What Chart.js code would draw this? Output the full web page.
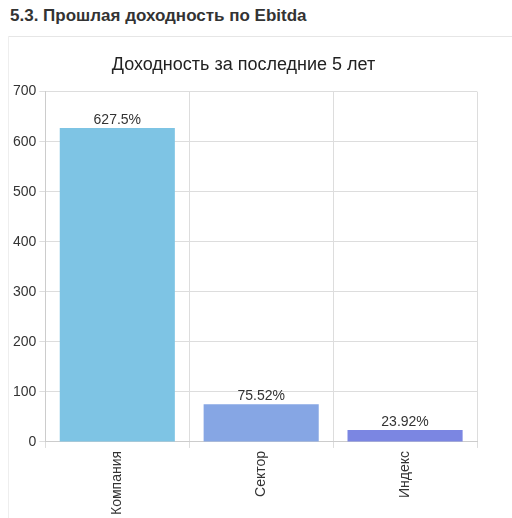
<!DOCTYPE html>
<html><head><meta charset="utf-8">
<script src="https://cdn.jsdelivr.net/npm/chart.js@4"></script>
<style>
body{margin:0;background:#fff;font-family:Arial,"Liberation Sans",sans-serif;}
#hdr{position:absolute;left:10px;top:6px;font-size:17px;font-weight:bold;color:#333;}
#line{position:absolute;left:8px;top:36px;width:504px;height:1px;background:#e6e6e6;}
#vline{position:absolute;left:8px;top:36px;width:1px;height:482px;background:#eee;}
#wrap{position:absolute;left:10px;top:44px;width:470px;height:474px;}
</style></head><body>
<div id="hdr">5.3. Прошлая доходность по Ebitda</div>
<div id="line"></div><div id="vline"></div>
<div id="wrap"><canvas id="c"></canvas></div>
<script>
const categories=["Компания","Сектор","Индекс"];
const values=[627.5,75.52,23.92];
const valueLabels=["627.5%","75.52%","23.92%"];
const colors=["#7ec4e4","#86a6e4","#7b86e2"];
const labelPlugin={id:"vl",afterDatasetsDraw(ch){const ctx=ch.ctx;const m=ch.getDatasetMeta(0);ctx.save();ctx.font="14px Arial, 'Liberation Sans'";ctx.fillStyle="#333";ctx.textAlign="center";ctx.textBaseline="bottom";m.data.forEach((b,i)=>ctx.fillText(valueLabels[i],b.x,b.y-1));ctx.restore();}};
new Chart(document.getElementById("c"),{type:"bar",
data:{labels:categories,datasets:[{data:values,backgroundColor:colors,categoryPercentage:1,barPercentage:0.8}]},
options:{responsive:true,maintainAspectRatio:false,animation:false,
layout:{padding:{right:3,top:0}},
plugins:{legend:{display:false},tooltip:{enabled:false},
title:{display:true,text:"Доходность за последние 5 лет",color:"#222",font:{size:18,family:"Arial, 'Liberation Sans'",weight:"normal"},padding:{top:10,bottom:16}}},
scales:{y:{min:0,max:700,ticks:{stepSize:100,color:"#333",font:{size:14}},grid:{color:"#ddd",tickLength:6},border:{color:"#ccc"}},
x:{offset:true,ticks:{color:"#333",font:{size:14},maxRotation:90,minRotation:90},grid:{color:"#ddd",offset:true,tickLength:6},border:{color:"#ccc"}}}},
plugins:[labelPlugin]});
</script></body></html>
